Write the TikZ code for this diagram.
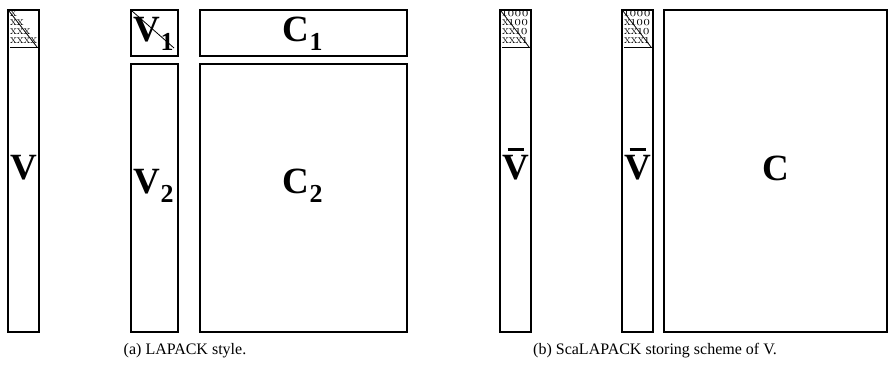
\documentclass[tikz,border=0pt]{standalone}
\usepackage{fontspec}
\setmainfont{Liberation Serif}
\newfontfamily\osfont[Numbers=OldStyle]{Latin Modern Roman}
\usetikzlibrary{calc}
\begin{document}
\begin{tikzpicture}[x=1pt,y=-1pt,
  mbox/.style={draw, line width=1.4pt, inner sep=0pt, outer sep=0pt, anchor=north west},
  big/.style={font=\bfseries\fontsize{37}{37}\selectfont, inner sep=0pt},
  tiny/.style={font=\osfont\fontsize{13}{13}\selectfont, inner sep=0pt, anchor=base west},
  captxt/.style={font=\fontsize{16}{16}\selectfont, inner sep=0pt},
  diag/.style={line width=0.8pt},
  uline/.style={line width=0.8pt},
  vbar/.style={line width=2.4pt}]
\useasboundingbox (0,0) rectangle (888,369);
% (a) LAPACK style
\node[mbox, minimum width=31pt, minimum height=322pt] (V) at (8,10) {};
\node[mbox, minimum width=47pt, minimum height=46pt] (V1) at (131,10) {};
\node[mbox, minimum width=47pt, minimum height=268pt] (V2) at (131,64) {};
\node[mbox, minimum width=207pt, minimum height=46pt] (C1) at (200,10) {};
\node[mbox, minimum width=207pt, minimum height=268pt] (C2) at (200,64) {};
% (b) ScaLAPACK
\node[mbox, minimum width=31pt, minimum height=322pt] (Vb1) at (500,10) {};
\node[mbox, minimum width=31pt, minimum height=322pt] (Vb2) at (622,10) {};
\node[mbox, minimum width=223pt, minimum height=322pt] (C) at (664,10) {};
% labels
\node[big] (lV) at (23.5,168) {V};
\node[big] (lV1) at (154,34) {V\textsubscript{1}};
\node[big] (lV2) at (154,186) {V\textsubscript{2}};
\node[big] (lC1) at (303,34) {C\textsubscript{1}};
\node[big] (lC2) at (303,186) {C\textsubscript{2}};
\node[big] (lVb1) at (515.5,168) {V};
\node[big] (lVb2) at (637.5,168) {V};
\node[big] (lC) at (775.5,168) {C};
\draw[vbar] ($(lVb1.north)+(-8,-6)$) -- ($(lVb1.north)+(8,-6)$);
\draw[vbar] ($(lVb2.north)+(-8,-6)$) -- ($(lVb2.north)+(8,-6)$);
% lower-triangle block in V
\node[tiny] (r1) at (10,17) {x};
\node[tiny] (r2) at (10,26) {xx};
\node[tiny] (r3) at (10,35) {xxx};
\node[tiny] (r4) at (10,44) {xxxx};
\coordinate (d1a) at (9,11);
\coordinate (d1b) at (37,47);
\draw[diag] (d1a) -- (d1b);
\coordinate (u1a) at (10,47.5);
\coordinate (u1b) at (38,47.5);
\draw[uline] (u1a) -- (u1b);
% diagonal in V1
\coordinate (d2a) at (132,11);
\coordinate (d2b) at (174,48);
\draw[diag] (d2a) -- (d2b);
% ScaLAPACK blocks
\foreach \b/\xx in {Vb1/502, Vb2/624}{
  \node[tiny] (\b r1) at (\xx,17) {1000};
  \node[tiny] (\b r2) at (\xx,26) {x100};
  \node[tiny] (\b r3) at (\xx,35) {xx10};
  \node[tiny] (\b r4) at (\xx,44) {xxx1};
  \coordinate (\b da) at (\xx-1,11);
  \coordinate (\b db) at (\xx+27,47);
  \draw[diag] (\b da) -- (\b db);
  \coordinate (\b ua) at (\xx,47.5);
  \coordinate (\b ub) at (\xx+28,47.5);
  \draw[uline] (\b ua) -- (\b ub);
}
% captions
\node[captxt] (capa) at (185,351) {(a) LAPACK style.};
\node[captxt] (capb) at (655,351) {(b) ScaLAPACK storing scheme of V.};
\end{tikzpicture}
\end{document}
